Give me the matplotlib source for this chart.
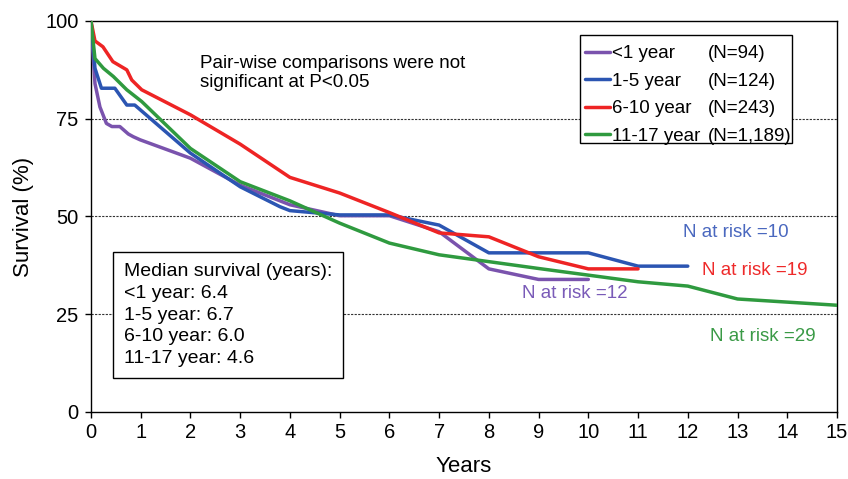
import matplotlib
matplotlib.use("Agg")
import matplotlib.pyplot as plt
from matplotlib.patches import Rectangle

plt.rcParams['font.family'] = ['Liberation Sans', 'DejaVu Sans']

# Kaplan-Meier curves (years, survival %)
lt1_x = [0, 0.08, 0.18, 0.31, 0.42, 0.58, 0.75, 0.85, 0.99, 2.0, 3.0, 4.0, 5.0, 6.0, 7.0, 8.0, 9.0, 10.0]
lt1_y = [100, 84, 78, 73.8, 73, 73, 71.1, 70.4, 69.6, 64.9, 58, 53, 50.2, 50.2, 46.1, 36.6, 33.9, 33.9]

y15_x = [0, 0.08, 0.21, 0.48, 0.72, 0.88, 2.0, 3.0, 3.8, 4.0, 5.0, 6.0, 7.0, 8.0, 10.0, 11.0, 12.0]
y15_y = [100, 87.9, 82.8, 82.8, 78.5, 78.5, 66.2, 57.6, 52.5, 51.5, 50.4, 50.4, 47.8, 40.7, 40.7, 37.3, 37.3]

y610_x = [0, 0.08, 0.24, 0.44, 0.72, 0.82, 1.02, 2.0, 3.0, 4.0, 5.0, 6.0, 7.0, 8.0, 9.0, 10.0, 11.0]
y610_y = [100, 94.9, 93.4, 89.6, 87.5, 84.9, 82.4, 76, 68.5, 60, 56, 51, 45.8, 44.8, 39.7, 36.6, 36.6]

y1117_x = [0, 0.08, 0.25, 0.45, 0.72, 1.02, 2.0, 3.0, 4.0, 5.0, 6.0, 7.0, 9.0, 11.0, 12.0, 13.0, 15.0]
y1117_y = [100, 90.4, 87.9, 85.8, 82.4, 79.4, 67.4, 58.9, 54, 48.3, 43.2, 40.2, 36.7, 33.3, 32.2, 28.9, 27.3]

groups = ['<1 year', '1-5 year', '6-10 year', '11-17 year']
n_total = ['(N=94)', '(N=124)', '(N=243)', '(N=1,189)']
colors = ['#7a53ad', '#2b55b2', '#ee2424', '#2f9a3f']
risk_colors = ['#7a5bb8', '#4a68bf', '#ee2a2a', '#3a9a46']
risk_labels = ['N at risk =12', 'N at risk =10', 'N at risk =19', 'N at risk =29']
risk_pos = [(8.67, 30.4), (11.9, 45.8), (12.29, 36.3), (12.45, 19.3)]
medians = ['6.4', '6.7', '6.0', '4.6']

fig = plt.figure(figsize=(8.48, 4.79), dpi=100)
ax = fig.add_axes([0.1073, 0.1399, 0.8797, 0.8163])

curves = [(lt1_x, lt1_y), (y15_x, y15_y), (y610_x, y610_y), (y1117_x, y1117_y)]
lines = []
for (xs, ys), c in zip(curves, colors):
    ln, = ax.plot(xs, ys, color=c, lw=2.5, solid_joinstyle='round', solid_capstyle='round', zorder=3)
    lines.append(ln)

for yv in [25, 50, 75]:
    ax.axhline(yv, color='#333333', lw=0.8, ls=(0, (2, 1.2)), zorder=1)

ax.set_xlim(0, 15)
ax.set_ylim(0, 100)
ax.set_xticks(range(0, 16))
ax.set_yticks([0, 25, 50, 75, 100])
ax.tick_params(labelsize=14.5, length=4, width=1, direction='out')
ax.tick_params(axis='y', pad=5)
ax.tick_params(axis='x', pad=4)
for s in ax.spines.values():
    s.set_linewidth(1)
ax.set_xlabel('Years', fontsize=16, labelpad=10)
ax.set_ylabel('Survival (%)', fontsize=16, labelpad=8)

ax.text(2.19, 86.7, 'Pair-wise comparisons were not\nsignificant at P<0.05', fontsize=13.5,
        ha='left', va='center', linespacing=1.15)

med_txt = 'Median survival (years):\n' + '\n'.join(g + ': ' + m for g, m in zip(groups, medians))
ax.text(0.66, 24.8, med_txt, fontsize=14, ha='left', va='center', linespacing=1.36,
        bbox=dict(boxstyle='square,pad=0.55', fc='white', ec='black', lw=1), zorder=4)

for lab, (xp, yp), c in zip(risk_labels, risk_pos, risk_colors):
    ax.text(xp, yp, lab, fontsize=13.5, color=c, ha='left', va='center')

# legend box with a second column for group sizes
ax.add_patch(Rectangle((0.6555, 0.688), 0.2842, 0.2762, transform=ax.transAxes,
                       fc='white', ec='black', lw=1, zorder=5))
leg = ax.legend(lines, groups, loc='upper left', bbox_to_anchor=(0.6488, 0.9642),
                frameon=False, fontsize=13.5, handlelength=1.35, handletextpad=0.1,
                borderaxespad=0, borderpad=0.54, labelspacing=0.55)
leg.set_zorder(6)
fig.canvas.draw()
inv = ax.transAxes.inverted()
for t, n in zip(leg.get_texts(), n_total):
    bb = t.get_window_extent()
    yc = inv.transform((0, (bb.y0 + bb.y1) / 2))[1]
    ax.text(0.8271, yc, n, fontsize=13.5, ha='left', va='center', transform=ax.transAxes, zorder=7)

fig.savefig('out.png', dpi=100)
